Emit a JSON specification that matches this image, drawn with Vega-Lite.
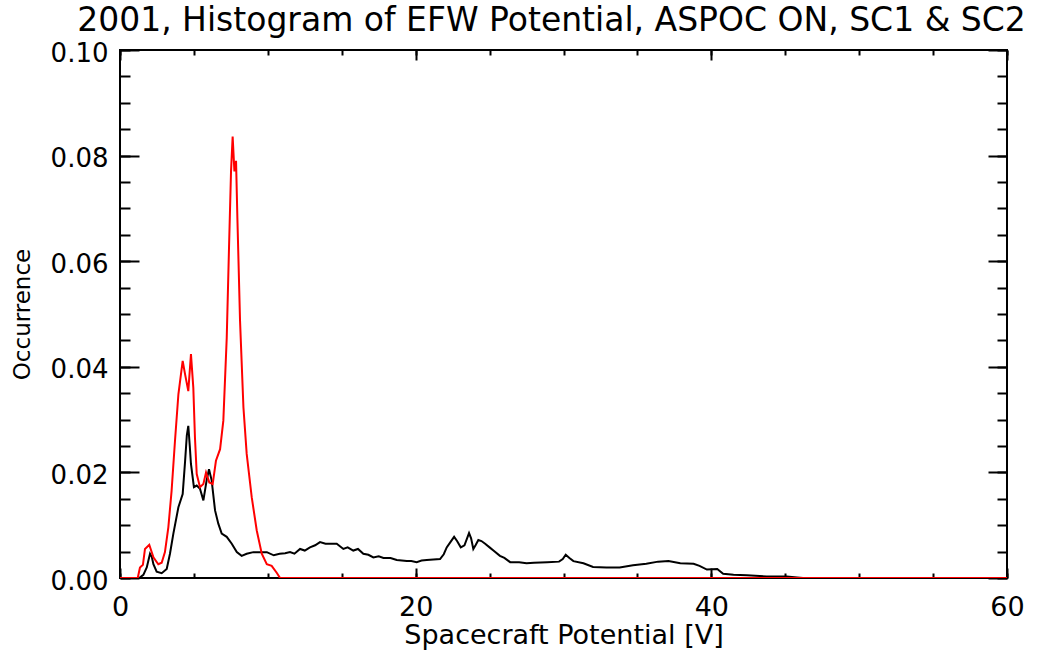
{
  "$schema": "https://vega.github.io/schema/vega-lite/v6.json",
  "width": 887,
  "height": 528,
  "autosize": "none",
  "padding": {"left": 120, "top": 50, "right": 51, "bottom": 74},
  "background": "white",
  "config": {
    "view": {"stroke": "black", "strokeWidth": 2},
    "axis": {"grid": false, "domain": false, "labelFlush": false, "labelFont": "DejaVu Sans", "titleFont": "DejaVu Sans", "labelColor": "black", "titleColor": "black", "tickColor": "black", "tickWidth": 2}
  },
  "title": {"text": "2001, Histogram of EFW Potential, ASPOC ON, SC1 & SC2", "font": "DejaVu Sans", "fontSize": 33, "fontWeight": "normal", "color": "black", "anchor": "middle", "dx": -12, "dy": 12, "offset": 14},
  "datasets": {
    "sc1": [
      {"v": 0, "occ": 0}, {"v": 1.3, "occ": 0}, {"v": 1.58, "occ": 0.0006}, {"v": 1.81, "occ": 0.002}, {"v": 2.03, "occ": 0.0046}, {"v": 2.15, "occ": 0.004}, {"v": 2.26, "occ": 0.0026}, {"v": 2.48, "occ": 0.0012}, {"v": 2.82, "occ": 0.0009}, {"v": 3.16, "occ": 0.0017}, {"v": 3.38, "occ": 0.0046}, {"v": 3.61, "occ": 0.0084}, {"v": 3.95, "occ": 0.0134}, {"v": 4.24, "occ": 0.0159}, {"v": 4.4, "occ": 0.022}, {"v": 4.52, "occ": 0.027}, {"v": 4.62, "occ": 0.0288}, {"v": 4.72, "occ": 0.025}, {"v": 4.8, "occ": 0.0216}, {"v": 5.0, "occ": 0.0172}, {"v": 5.19, "occ": 0.0175}, {"v": 5.41, "occ": 0.0169}, {"v": 5.64, "occ": 0.0147}, {"v": 5.86, "occ": 0.0185}, {"v": 6.02, "occ": 0.0206}, {"v": 6.2, "occ": 0.0185}, {"v": 6.43, "occ": 0.0128}, {"v": 6.65, "occ": 0.0103}, {"v": 6.88, "occ": 0.0084}, {"v": 7.22, "occ": 0.0078}, {"v": 7.56, "occ": 0.0065}, {"v": 7.9, "occ": 0.0049}, {"v": 8.23, "occ": 0.0042}, {"v": 8.57, "occ": 0.0046}, {"v": 9.02, "occ": 0.0049}, {"v": 9.5, "occ": 0.0049}, {"v": 9.93, "occ": 0.0049}, {"v": 10.4, "occ": 0.0043}, {"v": 10.8, "occ": 0.0046}, {"v": 11.17, "occ": 0.0047}, {"v": 11.5, "occ": 0.0049}, {"v": 11.8, "occ": 0.0046}, {"v": 12.18, "occ": 0.0055}, {"v": 12.5, "occ": 0.0052}, {"v": 12.85, "occ": 0.0058}, {"v": 13.2, "occ": 0.0062}, {"v": 13.53, "occ": 0.0068}, {"v": 13.9, "occ": 0.0065}, {"v": 14.2, "occ": 0.0065}, {"v": 14.66, "occ": 0.0065}, {"v": 15.11, "occ": 0.0055}, {"v": 15.4, "occ": 0.0058}, {"v": 15.78, "occ": 0.0052}, {"v": 16.1, "occ": 0.0055}, {"v": 16.46, "occ": 0.0046}, {"v": 16.8, "occ": 0.0044}, {"v": 17.14, "occ": 0.0039}, {"v": 17.5, "occ": 0.0041}, {"v": 17.82, "occ": 0.0038}, {"v": 18.3, "occ": 0.0038}, {"v": 18.72, "occ": 0.0034}, {"v": 19.4, "occ": 0.0032}, {"v": 19.7, "occ": 0.0032}, {"v": 20.07, "occ": 0.003}, {"v": 20.4, "occ": 0.0033}, {"v": 20.75, "occ": 0.0034}, {"v": 21.2, "occ": 0.0035}, {"v": 21.65, "occ": 0.0036}, {"v": 21.9, "occ": 0.0045}, {"v": 22.1, "occ": 0.0058}, {"v": 22.35, "occ": 0.0068}, {"v": 22.6, "occ": 0.0078}, {"v": 22.8, "occ": 0.007}, {"v": 23.05, "occ": 0.0058}, {"v": 23.3, "occ": 0.0062}, {"v": 23.61, "occ": 0.0085}, {"v": 23.75, "occ": 0.0075}, {"v": 23.9, "occ": 0.0055}, {"v": 24.05, "occ": 0.0062}, {"v": 24.24, "occ": 0.0072}, {"v": 24.45, "occ": 0.007}, {"v": 24.7, "occ": 0.0065}, {"v": 25.0, "occ": 0.0058}, {"v": 25.26, "occ": 0.0052}, {"v": 25.7, "occ": 0.0042}, {"v": 26.0, "occ": 0.0038}, {"v": 26.39, "occ": 0.003}, {"v": 27.0, "occ": 0.003}, {"v": 27.5, "occ": 0.0028}, {"v": 28.0, "occ": 0.0029}, {"v": 28.9, "occ": 0.003}, {"v": 29.7, "occ": 0.0031}, {"v": 29.95, "occ": 0.0036}, {"v": 30.15, "occ": 0.0044}, {"v": 30.4, "occ": 0.0038}, {"v": 30.67, "occ": 0.0032}, {"v": 31.35, "occ": 0.0028}, {"v": 32.0, "occ": 0.0021}, {"v": 32.9, "occ": 0.002}, {"v": 33.8, "occ": 0.002}, {"v": 34.7, "occ": 0.0024}, {"v": 35.6, "occ": 0.0027}, {"v": 36.4, "occ": 0.0031}, {"v": 37.1, "occ": 0.0032}, {"v": 37.9, "occ": 0.0028}, {"v": 38.8, "occ": 0.0027}, {"v": 39.2, "occ": 0.0023}, {"v": 39.7, "occ": 0.0016}, {"v": 40.4, "occ": 0.0017}, {"v": 40.8, "occ": 0.0008}, {"v": 41.5, "occ": 0.0006}, {"v": 42.4, "occ": 0.0005}, {"v": 43.75, "occ": 0.0003}, {"v": 45.1, "occ": 0.0003}, {"v": 45.8, "occ": 0.0001}, {"v": 46.2, "occ": 0}, {"v": 60, "occ": 0}
    ],
    "sc2": [
      {"v": 0, "occ": 0}, {"v": 1.2, "occ": 0}, {"v": 1.35, "occ": 0.002}, {"v": 1.55, "occ": 0.0025}, {"v": 1.69, "occ": 0.0055}, {"v": 1.98, "occ": 0.0063}, {"v": 2.26, "occ": 0.0039}, {"v": 2.59, "occ": 0.0026}, {"v": 2.82, "occ": 0.0029}, {"v": 3.04, "occ": 0.0049}, {"v": 3.27, "occ": 0.0096}, {"v": 3.49, "occ": 0.0165}, {"v": 3.72, "occ": 0.026}, {"v": 3.95, "occ": 0.0348}, {"v": 4.24, "occ": 0.0411}, {"v": 4.4, "occ": 0.0386}, {"v": 4.62, "occ": 0.0354}, {"v": 4.8, "occ": 0.0424}, {"v": 4.96, "occ": 0.036}, {"v": 5.07, "occ": 0.0266}, {"v": 5.19, "occ": 0.0197}, {"v": 5.41, "occ": 0.0172}, {"v": 5.64, "occ": 0.0178}, {"v": 5.82, "occ": 0.02}, {"v": 6.04, "occ": 0.0181}, {"v": 6.27, "occ": 0.0178}, {"v": 6.49, "occ": 0.0222}, {"v": 6.77, "occ": 0.0244}, {"v": 6.99, "occ": 0.0298}, {"v": 7.22, "occ": 0.0455}, {"v": 7.38, "occ": 0.0632}, {"v": 7.51, "occ": 0.077}, {"v": 7.62, "occ": 0.0836}, {"v": 7.74, "occ": 0.077}, {"v": 7.85, "occ": 0.079}, {"v": 7.94, "occ": 0.0682}, {"v": 8.12, "occ": 0.0487}, {"v": 8.35, "occ": 0.0323}, {"v": 8.57, "occ": 0.0235}, {"v": 8.91, "occ": 0.0153}, {"v": 9.25, "occ": 0.009}, {"v": 9.59, "occ": 0.0046}, {"v": 9.93, "occ": 0.0026}, {"v": 10.26, "occ": 0.0023}, {"v": 10.6, "occ": 0.001}, {"v": 10.83, "occ": 0}, {"v": 60, "occ": 0}
    ]
  },
  "layer": [
    {
      "data": {"name": "sc1"},
      "mark": {"type": "line", "color": "black", "strokeWidth": 2, "clip": true},
      "encoding": {
        "x": {"field": "v", "type": "quantitative", "scale": {"domain": [0, 60], "nice": false},
          "axis": {"orient": "bottom", "values": [0, 20, 40, 60], "format": "d", "ticks": false, "labelFontSize": 27, "labelPadding": 16, "title": "Spacecraft Potential [V]", "titleFontSize": 27, "titleFontWeight": "normal", "titlePadding": 2}},
        "y": {"field": "occ", "type": "quantitative", "scale": {"domain": [0, 0.1], "nice": false},
          "axis": {"orient": "left", "values": [0, 0.02, 0.04, 0.06, 0.08, 0.1], "format": ".2f", "ticks": false, "labelFontSize": 26, "labelPadding": 12, "labelOffset": 3, "title": "Occurrence", "titleFontSize": 23, "titleFontWeight": "normal", "titlePadding": 16}}
      }
    },
    {
      "data": {"name": "sc2"},
      "mark": {"type": "line", "color": "#ff0000", "strokeWidth": 2, "clip": true},
      "encoding": {
        "x": {"field": "v", "type": "quantitative", "scale": {"domain": [0, 60], "nice": false},
          "axis": {"orient": "bottom", "values": [0, 20, 40, 60], "labels": false, "title": null, "tickSize": -10}},
        "y": {"field": "occ", "type": "quantitative", "scale": {"domain": [0, 0.1], "nice": false},
          "axis": {"orient": "left", "values": [0, 0.02, 0.04, 0.06, 0.08, 0.1], "labels": false, "title": null, "tickSize": -19}}
      }
    },
    {
      "data": {"name": "sc2"},
      "mark": {"type": "line", "opacity": 0},
      "encoding": {
        "x": {"field": "v", "type": "quantitative", "scale": {"domain": [0, 60], "nice": false},
          "axis": {"orient": "bottom", "values": [0, 5, 10, 15, 20, 25, 30, 35, 40, 45, 50, 55, 60], "labels": false, "title": null, "tickSize": -5}},
        "y": {"field": "occ", "type": "quantitative", "scale": {"domain": [0, 0.1], "nice": false},
          "axis": {"orient": "left", "values": [0, 0.005, 0.01, 0.015, 0.02, 0.025, 0.03, 0.035, 0.04, 0.045, 0.05, 0.055, 0.06, 0.065, 0.07, 0.075, 0.08, 0.085, 0.09, 0.095, 0.1], "labels": false, "title": null, "tickSize": -10}}
      }
    },
    {
      "data": {"name": "sc2"},
      "mark": {"type": "line", "opacity": 0},
      "encoding": {
        "x": {"field": "v", "type": "quantitative", "scale": {"domain": [0, 60], "nice": false},
          "axis": {"orient": "top", "values": [0, 20, 40, 60], "labels": false, "title": null, "tickSize": -10}},
        "y": {"field": "occ", "type": "quantitative", "scale": {"domain": [0, 0.1], "nice": false},
          "axis": {"orient": "right", "values": [0, 0.02, 0.04, 0.06, 0.08, 0.1], "labels": false, "title": null, "tickSize": -19}}
      }
    },
    {
      "data": {"name": "sc2"},
      "mark": {"type": "line", "opacity": 0},
      "encoding": {
        "x": {"field": "v", "type": "quantitative", "scale": {"domain": [0, 60], "nice": false},
          "axis": {"orient": "top", "values": [0, 5, 10, 15, 20, 25, 30, 35, 40, 45, 50, 55, 60], "labels": false, "title": null, "tickSize": -5}},
        "y": {"field": "occ", "type": "quantitative", "scale": {"domain": [0, 0.1], "nice": false},
          "axis": {"orient": "right", "values": [0, 0.005, 0.01, 0.015, 0.02, 0.025, 0.03, 0.035, 0.04, 0.045, 0.05, 0.055, 0.06, 0.065, 0.07, 0.075, 0.08, 0.085, 0.09, 0.095, 0.1], "labels": false, "title": null, "tickSize": -10}}
      }
    }
  ],
  "resolve": {"axis": {"x": "independent", "y": "independent"}}
}
